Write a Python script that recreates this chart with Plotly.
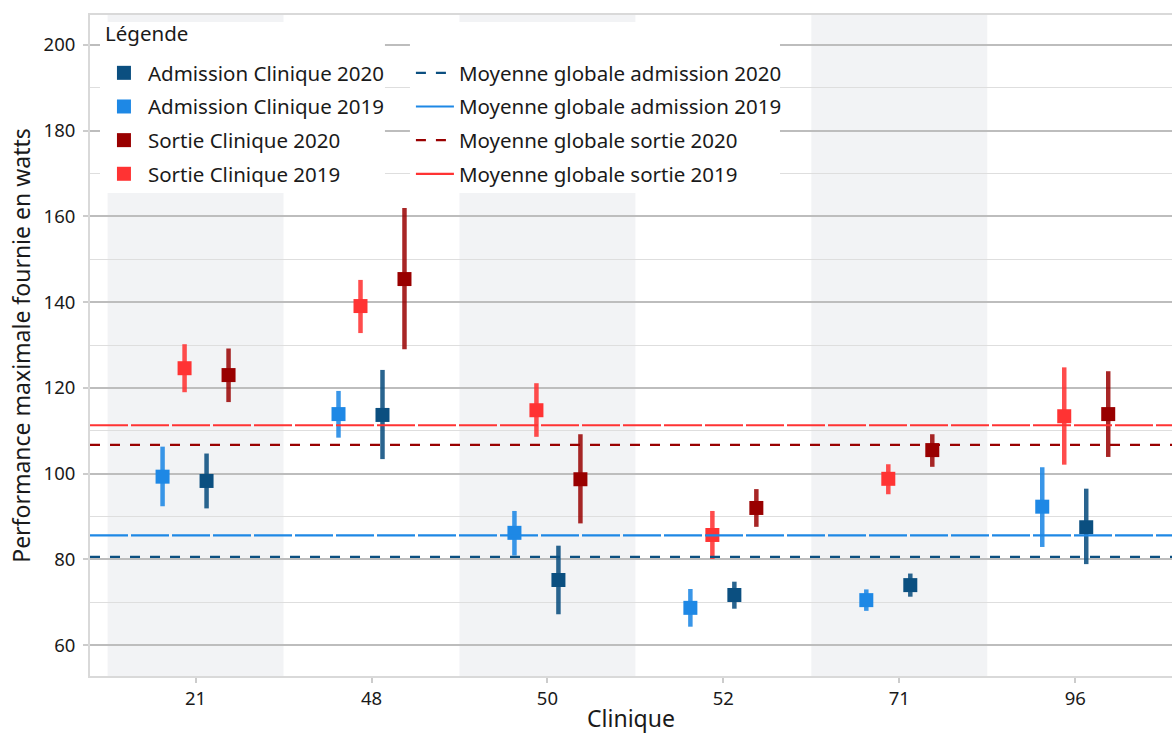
import plotly.graph_objects as go

cliniques = ["21", "48", "50", "52", "71", "96"]

adm2019 = [99.3, 113.9, 86.2, 68.7, 70.5, 92.3]
adm2019_hi = [106.3, 119.3, 91.3, 73.1, 73.0, 101.5]
adm2019_lo = [92.4, 108.4, 80.9, 64.3, 68.0, 82.9]

sor2019 = [124.6, 139.1, 114.8, 85.7, 98.8, 113.4]
sor2019_hi = [130.2, 145.2, 121.1, 91.3, 102.2, 124.8]
sor2019_lo = [119.0, 132.8, 108.6, 80.1, 95.2, 102.1]

adm2020 = [98.3, 113.7, 75.2, 71.7, 74.0, 87.5]
adm2020_hi = [104.7, 124.2, 83.2, 74.8, 76.7, 96.5]
adm2020_lo = [91.9, 103.4, 67.2, 68.5, 71.3, 78.9]

sor2020 = [123.0, 145.4, 98.7, 92.0, 105.5, 113.9]
sor2020_hi = [129.2, 162.0, 109.2, 96.4, 109.2, 123.9]
sor2020_lo = [116.7, 129.0, 88.4, 87.6, 101.6, 103.9]

moy_adm2020 = 80.6
moy_adm2019 = 85.6
moy_sor2020 = 106.7
moy_sor2019 = 111.3

FONT = "Noto Sans"
TXT = "#1a1a1a"

fig = go.Figure()

series = [
    ("Admission Clinique 2020", adm2020, adm2020_lo, adm2020_hi, 0.0625, "#0b4f80", "rgba(11,79,128,0.88)", 1),
    ("Admission Clinique 2019", adm2019, adm2019_lo, adm2019_hi, -0.1875, "#1e88e5", "rgba(30,136,229,0.88)", 2),
    ("Sortie Clinique 2020", sor2020, sor2020_lo, sor2020_hi, 0.1875, "#990000", "rgba(153,0,0,0.85)", 3),
    ("Sortie Clinique 2019", sor2019, sor2019_lo, sor2019_hi, -0.0625, "#ff3333", "rgba(255,51,51,0.88)", 4),
]

for name, vals, lo, hi, off, col, ecol, rank in series:
    xs = [i + off for i in range(len(cliniques))]
    fig.add_trace(go.Scatter(
        x=xs, y=vals, mode="markers", name=name,
        marker=dict(symbol="square", size=14, color=col, line=dict(width=0)),
        error_y=dict(type="data", symmetric=False,
                     array=[h - v for h, v in zip(hi, vals)],
                     arrayminus=[v - l for v, l in zip(vals, lo)],
                     color=ecol, thickness=4.5, width=0),
        legend="legend", legendgroup=name, legendrank=rank,
    ))

xr = [-0.6, 5.55]
means = [
    ("Moyenne globale admission 2020", moy_adm2020, "#0b4f80", "10px,10px", 1),
    ("Moyenne globale admission 2019", moy_adm2019, "#1e88e5", "38px,3px", 2),
    ("Moyenne globale sortie 2020", moy_sor2020, "#990000", "10px,10px", 3),
    ("Moyenne globale sortie 2019", moy_sor2019, "#ff3333", "38px,3px", 4),
]
for name, v, col, dash, rank in means:
    fig.add_trace(go.Scatter(
        x=xr, y=[v, v], mode="lines", name=name,
        line=dict(color=col, width=2.2, dash=dash),
        legend="legend2", legendgroup=name, legendrank=rank,
    ))

# alternating background bands
for i in range(0, len(cliniques), 2):
    fig.add_shape(type="rect", xref="x", yref="paper", x0=i - 0.5, x1=i + 0.5,
                  y0=0, y1=1, fillcolor="#f2f3f5", line=dict(width=0), layer="below")

# white legend panels
for x0, x1 in [(0.00924, 0.2726), (0.2957, 0.6377)]:
    fig.add_shape(type="rect", xref="paper", yref="paper", x0=x0, x1=x1,
                  y0=0.7307, y1=0.9894, fillcolor="white", line=dict(width=0), layer="above")

fig.add_annotation(text="Légende", xref="paper", yref="paper", x=0.012, y=0.9728,
                   xanchor="left", yanchor="middle", showarrow=False,
                   font=dict(family=FONT, size=20.5, color=TXT))

LS = 20.5
legfont = dict(family=FONT, size=LS, color=TXT)
fig.update_layout(
    width=1172, height=734,
    margin=dict(l=90, r=0, t=15, b=58),
    plot_bgcolor="white", paper_bgcolor="white",
    font=dict(family=FONT, size=18.5, color=TXT),
    legend=dict(x=0.0092, y=0.9425, xanchor="left", yanchor="top",
                bgcolor="rgba(0,0,0,0)", borderwidth=0, font=legfont, itemwidth=38,
                traceorder="grouped", tracegroupgap=4),
    legend2=dict(x=0.2966, y=0.9425, xanchor="left", yanchor="top",
                 bgcolor="rgba(0,0,0,0)", borderwidth=0, font=legfont, itemwidth=38,
                 traceorder="grouped", tracegroupgap=4),
    xaxis=dict(range=xr, tickvals=list(range(len(cliniques))), ticktext=cliniques,
               showgrid=False, zeroline=False, showline=True, linecolor="#d9d9d9",
               linewidth=2, mirror=True, ticks="outside", ticklen=5, tickcolor="#cccccc",
               tickwidth=2, automargin=False,
               tickfont=dict(family=FONT, size=18.5, color=TXT),
               title=dict(text="Clinique", font=dict(family=FONT, size=23, color=TXT), standoff=4)),
    yaxis=dict(range=[52.8, 207], tickvals=[60, 80, 100, 120, 140, 160, 180, 200],
               showgrid=True, gridcolor="#bdbdbd", gridwidth=2, zeroline=False,
               showline=True, linecolor="#d9d9d9", linewidth=2, mirror=True,
               ticks="outside", ticklen=5, tickcolor="#cccccc", tickwidth=2,
               automargin=False, ticklabelstandoff=4,
               minor=dict(tickvals=[70, 90, 110, 130, 150, 170, 190], showgrid=True,
                          gridcolor="#dedede", gridwidth=1.2, ticks=""),
               tickfont=dict(family=FONT, size=18.5, color=TXT),
               title=dict(text="Performance maximale fournie en watts",
                          font=dict(family=FONT, size=23, color=TXT), standoff=6)),
)

fig.write_html("out.html", config={"displayModeBar": False},
               post_script="document.body.style.margin='0px';")
